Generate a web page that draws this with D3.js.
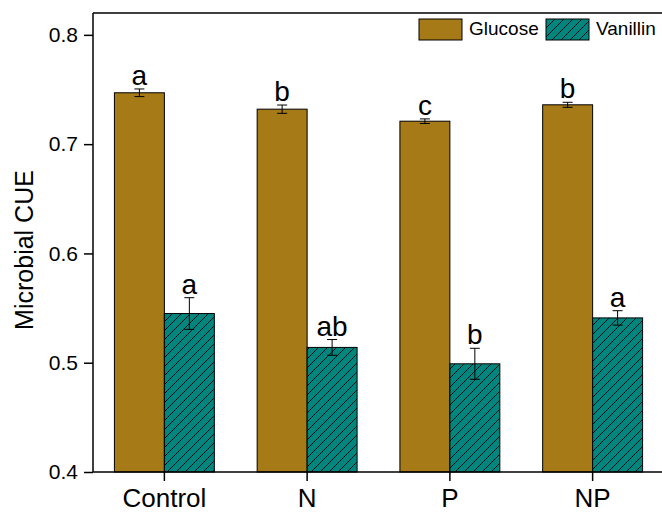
<!DOCTYPE html>
<html>
<head>
<meta charset="utf-8">
<script src="https://cdn.jsdelivr.net/npm/d3@7"></script>
<style>
  body { margin: 0; background: #fff; }
  svg { display: block; font-family: Arial, "Liberation Sans", sans-serif; }
</style>
</head>
<body>
<svg id="chart" width="662" height="513"></svg>
<script>
// data
const categories = ["Control", "N", "P", "NP"];
const seriesNames = ["Glucose", "Vanillin"];
const glucose = [0.747, 0.732, 0.721, 0.736];
const glucoseErr = [0.0035, 0.0038, 0.0021, 0.0023];
const glucoseLetters = ["a", "b", "c", "b"];
const vanillin = [0.545, 0.514, 0.499, 0.541];
const vanillinErr = [0.0145, 0.0072, 0.0142, 0.0066];
const vanillinLetters = ["a", "ab", "b", "a"];
const yTicks = [0.4, 0.5, 0.6, 0.7, 0.8];

const colors = { Glucose: "#A57A17", Vanillin: "#00867F" };

const svg = d3.select("#chart");
const plotL = 93, plotR = 664, plotT = 13, plotB = 472;

const x = d3.scaleBand().domain(categories).range([plotL, plotR])
  .paddingInner(0.3).paddingOuter(0.15);
const xs = d3.scaleBand().domain(seriesNames).range([0, x.bandwidth()]);
const y = d3.scaleLinear().domain([0.4, 0.82]).range([plotB, plotT]);

// hatch pattern for vanillin
const hs = 9;
const defs = svg.append("defs");
const pat = defs.append("pattern")
  .attr("id", "hatch")
  .attr("patternUnits", "userSpaceOnUse")
  .attr("width", hs).attr("height", hs);
pat.append("rect").attr("width", hs).attr("height", hs).attr("fill", colors.Vanillin);
pat.append("path")
  .attr("d", `M-1,1 l2,-2 M0,${hs} l${hs},-${hs} M${hs - 1},${hs + 1} l2,-2`)
  .attr("stroke", "#000").attr("stroke-width", 0.9);

const fillOf = s => s === "Vanillin" ? "url(#hatch)" : colors.Glucose;

const rows = [];
categories.forEach((c, i) => {
  rows.push({ cat: c, s: "Glucose", v: glucose[i], e: glucoseErr[i], l: glucoseLetters[i] });
  rows.push({ cat: c, s: "Vanillin", v: vanillin[i], e: vanillinErr[i], l: vanillinLetters[i] });
});

const g = svg.append("g");

// bars
g.selectAll("rect.bar")
  .data(rows)
  .enter()
  .append("rect")
  .attr("class", "bar")
  .attr("x", d => x(d.cat) + xs(d.s))
  .attr("y", d => y(d.v))
  .attr("width", xs.bandwidth())
  .attr("height", d => plotB - y(d.v))
  .attr("fill", d => fillOf(d.s))
  .attr("stroke", "#000")
  .attr("stroke-width", 1);

// error bars
const eb = g.selectAll("g.err").data(rows).enter().append("g")
  .attr("transform", d => `translate(${x(d.cat) + xs(d.s) + xs.bandwidth() / 2},0)`);
eb.append("line")
  .attr("y1", d => y(d.v - d.e)).attr("y2", d => y(d.v + d.e))
  .attr("stroke", "#000").attr("stroke-width", 1);
eb.append("line")
  .attr("x1", -5).attr("x2", 5)
  .attr("y1", d => y(d.v + d.e)).attr("y2", d => y(d.v + d.e))
  .attr("stroke", "#000").attr("stroke-width", 1);
eb.append("line")
  .attr("x1", -5).attr("x2", 5)
  .attr("y1", d => y(d.v - d.e)).attr("y2", d => y(d.v - d.e))
  .attr("stroke", "#000").attr("stroke-width", 1);

// significance letters
eb.append("text")
  .attr("y", d => y(d.v + d.e) - 4)
  .attr("text-anchor", "middle")
  .attr("font-size", 28)
  .text(d => d.l);

// y axis
const yAxis = svg.append("g")
  .attr("transform", `translate(${plotL},0)`)
  .call(d3.axisLeft(y).tickValues(yTicks).tickFormat(d3.format(".1f")).tickSize(9).tickPadding(6));
yAxis.select(".domain").remove();
yAxis.selectAll("line").attr("stroke", "#000").attr("stroke-width", 1.5);
yAxis.selectAll("text").attr("font-size", 21).attr("font-family", "Arial, 'Liberation Sans', sans-serif").attr("fill", "#000");

// x axis
const xAxis = svg.append("g")
  .attr("transform", `translate(0,${plotB})`)
  .call(d3.axisBottom(x).tickSize(9).tickPadding(8));
xAxis.select(".domain").remove();
xAxis.selectAll("line").attr("stroke", "#000").attr("stroke-width", 1.5);
xAxis.selectAll("text").attr("font-size", 26).attr("font-family", "Arial, 'Liberation Sans', sans-serif").attr("fill", "#000");

// frame
svg.append("line").attr("x1", plotL).attr("x2", 662).attr("y1", plotB).attr("y2", plotB)
  .attr("stroke", "#000").attr("stroke-width", 1.5);
svg.append("line").attr("x1", plotL).attr("x2", 662).attr("y1", plotT).attr("y2", plotT)
  .attr("stroke", "#000").attr("stroke-width", 1.5);
svg.append("line").attr("x1", plotL).attr("x2", plotL).attr("y1", plotT).attr("y2", plotB)
  .attr("stroke", "#000").attr("stroke-width", 1.5);

// y title
svg.append("text")
  .attr("transform", `translate(33,250) rotate(-90)`)
  .attr("text-anchor", "middle")
  .attr("font-size", 25)
  .text("Microbial CUE");

// legend
const legendX = [419, 546];
const leg = svg.selectAll("g.leg").data(seriesNames).enter().append("g")
  .attr("transform", (d, i) => `translate(${legendX[i]},19)`);
leg.append("rect")
  .attr("width", 43).attr("height", 21)
  .attr("fill", d => fillOf(d))
  .attr("stroke", "#000").attr("stroke-width", 1);
leg.append("text")
  .attr("x", 50).attr("y", 16)
  .attr("font-size", 19)
  .text(d => d);
</script>
</body>
</html>
